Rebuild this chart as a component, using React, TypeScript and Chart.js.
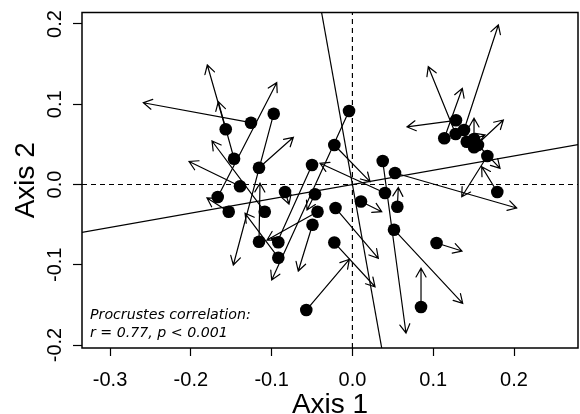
import { useEffect, useRef } from "react";
import { Chart, registerables } from "chart.js";
Chart.register(...registerables);

// Procrustes: tails (filled points) and heads (arrow ends)
const pointX = [-0.1568, -0.1255, -0.0974, -0.1465, -0.1156, -0.1391, -0.1667, -0.0834, -0.0463, -0.05, -0.0224, -0.0042, 0.0375, 0.0527, 0.0403, 0.0106, -0.1531, -0.1085, -0.0432, -0.0209, -0.0494, -0.1156, -0.0917, -0.0224, -0.0917, -0.0571, 0.0556, 0.0515, 0.1041, 0.0849, 0.1793, 0.1282, 0.1137, 0.1278, 0.1381, 0.1415, 0.1505, 0.1505, 0.167, 0.1554];
const pointY = [0.0688, 0.077, 0.0882, 0.0321, 0.0209, -0.0022, -0.0156, -0.0093, -0.0122, 0.0243, 0.0492, 0.0916, 0.0293, 0.0143, -0.0106, -0.0212, -0.0339, -0.0339, -0.0339, -0.0293, -0.0501, -0.0713, -0.072, -0.0723, -0.0912, -0.1564, -0.0277, -0.0563, -0.0729, -0.1526, -0.0093, 0.08, 0.0576, 0.0629, 0.0679, 0.0533, 0.0567, 0.0464, 0.0355, 0.0492];
const arrowX = [-0.1796, -0.2588, -0.1474, -0.166, -0.0731, -0.2022, -0.0937, -0.0785, -0.0562, -0.0958, 0.0218, -0.0999, 0.0663, 0.2033, -0.0401, 0.0363, -0.18, -0.1738, -0.1057, 0.0321, -0.067, -0.1144, -0.1007, 0.028, -0.1329, -0.0038, 0.0568, 0.1365, 0.1356, 0.0849, 0.16, 0.0676, 0.136, 0.0939, 0.1806, 0.1641, 0.1505, 0.1868, 0.1353, 0.1827];
const arrowY = [0.1489, 0.1019, -0.1003, 0.1032, 0.0588, 0.0287, 0.1269, -0.0243, -0.0318, -0.0779, 0.0035, -0.119, -0.185, -0.0293, 0.0264, -0.0339, -0.0168, 0.0542, -0.0692, -0.092, -0.1078, 0.0015, -0.0667, -0.1274, -0.0359, -0.0932, -0.0037, -0.148, -0.0829, -0.1044, 0.0222, 0.0717, 0.1199, 0.1468, 0.1988, 0.0617, 0.0825, 0.0804, -0.0152, 0.0202];

const xTicks = [-0.3, -0.2, -0.1, 0.0, 0.1, 0.2];
const yTicks = [-0.2, -0.1, 0.0, 0.1, 0.2];
const xLimits = [-0.3347, 0.2792];
const yLimits = [-0.2037, 0.2143];
const rotationSlope = 0.178;
const xTitle = "Axis 1";
const yTitle = "Axis 2";
const noteLines = ["Procrustes correlation:", "r = 0.77, p < 0.001"];

const AXIS_FONT = '"Liberation Sans", Arial, sans-serif';

export default function App() {
  const ref = useRef<HTMLCanvasElement | null>(null);
  useEffect(() => {
    if (!ref.current) return;
    const pts = pointX.map((x, i) => ({ x, y: pointY[i] }));
    const lineA = [
      { x: -1, y: -rotationSlope },
      { x: 1, y: rotationSlope },
    ];
    const lineB = [
      { x: -0.06, y: 0.06 / rotationSlope },
      { x: 0.06, y: -0.06 / rotationSlope },
    ];
    const hDash = [
      { x: xLimits[0], y: 0 },
      { x: xLimits[1], y: 0 },
    ];
    const vDash = [
      { x: 0, y: yLimits[0] },
      { x: 0, y: yLimits[1] },
    ];

    const arrowsPlugin = {
      id: "procrustesArrows",
      beforeDatasetsDraw(chart: any) {
        const { ctx, scales, chartArea } = chart;
        const xs = scales.x, ys = scales.y;
        ctx.save();
        ctx.beginPath();
        ctx.rect(chartArea.left, chartArea.top, chartArea.right - chartArea.left, chartArea.bottom - chartArea.top);
        ctx.clip();
        ctx.strokeStyle = "#000";
        ctx.lineWidth = 1.2;
        ctx.lineCap = "round";
        const L = 10, ang = Math.PI / 6;
        for (let i = 0; i < pointX.length; i++) {
          const x0 = xs.getPixelForValue(pointX[i]);
          const y0 = ys.getPixelForValue(pointY[i]);
          const x1 = xs.getPixelForValue(arrowX[i]);
          const y1 = ys.getPixelForValue(arrowY[i]);
          const a = Math.atan2(y1 - y0, x1 - x0);
          ctx.beginPath();
          ctx.moveTo(x0, y0);
          ctx.lineTo(x1, y1);
          ctx.moveTo(x1 - L * Math.cos(a - ang), y1 - L * Math.sin(a - ang));
          ctx.lineTo(x1, y1);
          ctx.lineTo(x1 - L * Math.cos(a + ang), y1 - L * Math.sin(a + ang));
          ctx.stroke();
        }
        ctx.restore();
      },
      afterDraw(chart: any) {
        const { ctx, scales, chartArea } = chart;
        const xs = scales.x, ys = scales.y;
        ctx.save();
        ctx.strokeStyle = "#000";
        ctx.lineWidth = 1.5;
        ctx.strokeRect(chartArea.left, chartArea.top, chartArea.right - chartArea.left, chartArea.bottom - chartArea.top);
        ctx.fillStyle = "#000";
        ctx.font = `20px ${AXIS_FONT}`;
        ctx.textAlign = "center";
        ctx.textBaseline = "middle";
        for (const v of xTicks) {
          ctx.fillText(v.toFixed(1), xs.getPixelForValue(v), 380);
        }
        for (const v of yTicks) {
          const py = ys.getPixelForValue(v);
          ctx.save();
          ctx.translate(55, py);
          ctx.rotate(-Math.PI / 2);
          ctx.fillText(v.toFixed(1), 0, 0);
          ctx.restore();
        }
        ctx.font = `28px ${AXIS_FONT}`;
        ctx.textBaseline = "alphabetic";
        ctx.fillText(xTitle, (chartArea.left + chartArea.right) / 2, 413);
        ctx.save();
        ctx.translate(33.5, (chartArea.top + chartArea.bottom) / 2);
        ctx.rotate(-Math.PI / 2);
        ctx.fillText(yTitle, 0, 0);
        ctx.restore();
        ctx.font = 'italic 14.2px "DejaVu Sans", Verdana, sans-serif';
        ctx.textAlign = "left";
        ctx.fillText(noteLines[0], 90, 319);
        ctx.fillText(noteLines[1], 90, 336.5);
        ctx.restore();
      },
    };

    const chart = new Chart(ref.current, {
      type: "scatter",
      data: {
        datasets: [
          {
            data: pts,
            backgroundColor: "#000",
            borderColor: "#000",
            borderWidth: 0,
            pointRadius: 6.3,
            pointHoverRadius: 6.3,
          },
          { type: "line", data: lineA, borderColor: "#000", borderWidth: 1.2, pointRadius: 0, showLine: true },
          { type: "line", data: lineB, borderColor: "#000", borderWidth: 1.2, pointRadius: 0, showLine: true },
          { type: "line", data: hDash, borderColor: "#000", borderWidth: 1.2, borderDash: [5, 4], pointRadius: 0, showLine: true },
          { type: "line", data: vDash, borderColor: "#000", borderWidth: 1.2, borderDash: [5, 4], pointRadius: 0, showLine: true },
        ] as any,
      },
      options: {
        animation: false,
        responsive: false,
        events: [],
        layout: { autoPadding: false, padding: { left: 0, right: 2, top: 12.5, bottom: 0 } },
        plugins: { legend: { display: false }, tooltip: { enabled: false } },
        scales: {
          x: {
            type: "linear",
            min: xLimits[0],
            max: xLimits[1],
            afterBuildTicks: (s: any) => {
              s.ticks = xTicks.map((v) => ({ value: v }));
            },
            afterFit: (s: any) => {
              s.height = 66;
            },
            grid: { drawOnChartArea: false, drawTicks: true, tickLength: 8, tickColor: "#000", tickWidth: 1.2 },
            border: { display: false },
            ticks: { display: false },
          },
          y: {
            type: "linear",
            min: yLimits[0],
            max: yLimits[1],
            afterBuildTicks: (s: any) => {
              s.ticks = yTicks.map((v) => ({ value: v }));
            },
            afterFit: (s: any) => {
              s.width = 82;
            },
            grid: { drawOnChartArea: false, drawTicks: true, tickLength: 9, tickColor: "#000", tickWidth: 1.2 },
            border: { display: false },
            ticks: { display: false },
          },
        },
      } as any,
      plugins: [arrowsPlugin],
    });
    return () => chart.destroy();
  }, []);
  return (
    <div style={{ position: "fixed", left: 0, top: 0, width: 580, height: 414, background: "#fff" }}>
      <canvas ref={ref} width={580} height={414} style={{ width: 580, height: 414 }} />
    </div>
  );
}
